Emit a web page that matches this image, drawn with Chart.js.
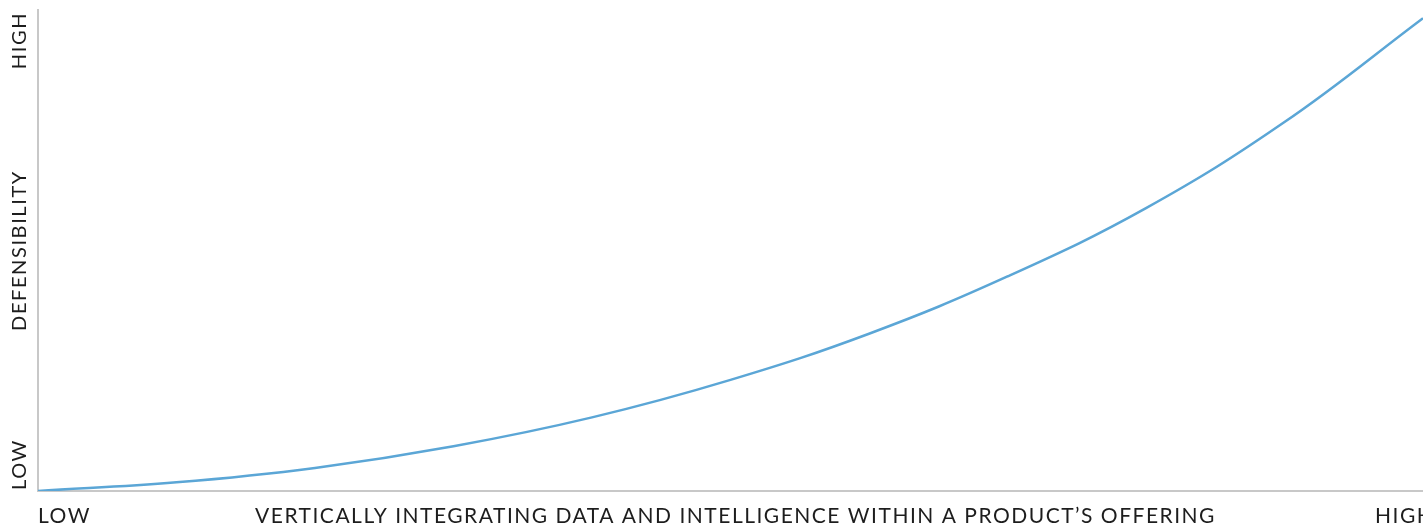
<!DOCTYPE html>
<html>
<head>
<meta charset="utf-8">
<script src="https://cdn.jsdelivr.net/npm/chart.js@4/dist/chart.umd.min.js"></script>
<style>
  html, body { margin: 0; padding: 0; background: #fff; overflow: hidden; }
  .chart { width: 1423px; height: 526px; }
</style>
</head>
<body>
<div class="chart"><canvas id="myChart"></canvas></div>
<script>
// curve, x and y on a 0..100 scale
const xValues = [0, 10, 20, 30, 40, 50, 60, 70, 80, 90, 100];
const yValues = [0, 1.8, 4.8, 9.3, 15.3, 23.1, 32.7, 44.6, 58.8, 76.7, 98.3];
const xLabels = ["LOW", "HIGH"];
const yLabels = ["LOW", "HIGH"];
const xTitle = "VERTICALLY INTEGRATING DATA AND INTELLIGENCE WITHIN A PRODUCT\u2019S OFFERING";
const yTitle = "DEFENSIBILITY";

const textColor = "#1d1d1d";

const axisText = {
    id: "axisText",
    afterDraw(chart) {
        const ctx = chart.ctx;
        const area = chart.chartArea;
        ctx.save();
        ctx.fillStyle = textColor;
        ctx.textBaseline = "middle";

        // x axis
        ctx.font = "21px Lato";
        ctx.letterSpacing = "1.5px";
        const yText = area.bottom + 25;
        ctx.textAlign = "left";
        ctx.fillText(xLabels[0], area.left, yText);
        ctx.fillText(xLabels[1], area.right - 48, yText);
        ctx.textAlign = "center";
        ctx.fillText(xTitle, (area.left + area.right) / 2 + 5, yText);

        // y axis, rotated
        ctx.font = "20px Lato";
        ctx.letterSpacing = "1.6px";
        ctx.translate(20, 0);
        ctx.rotate(-Math.PI / 2);
        ctx.textAlign = "left";
        ctx.fillText(yLabels[0], -(area.bottom - 1), 0);
        ctx.textAlign = "right";
        ctx.fillText(yLabels[1], -12, 0);
        ctx.textAlign = "center";
        ctx.fillText(yTitle, -(area.top + area.bottom) / 2, 0);
        ctx.restore();
    }
};

new Chart(document.getElementById("myChart").getContext("2d"), {
    type: "line",
    data: {
        datasets: [
            {
                data: xValues.map((x, i) => ({ x: x, y: yValues[i] })),
                borderColor: "#5ba6d6",
                borderWidth: 2.5,
                pointRadius: 0,
                tension: 0.4,
                fill: false
            }
        ]
    },
    options: {
        responsive: true,
        maintainAspectRatio: false,
        animation: false,
        layout: { padding: { left: 38, top: 10, right: 0, bottom: 35 } },
        plugins: { legend: { display: false }, tooltip: { enabled: false } },
        scales: {
            x: {
                type: "linear",
                min: 0,
                max: 100,
                ticks: { display: false },
                grid: { display: false, drawTicks: false },
                border: { display: true, color: "#c8c8c8", width: 2 }
            },
            y: {
                min: 0,
                max: 100,
                ticks: { display: false },
                grid: { display: false, drawTicks: false },
                border: { display: true, color: "#c8c8c8", width: 2 }
            }
        }
    },
    plugins: [axisText]
});
</script>
</body>
</html>
